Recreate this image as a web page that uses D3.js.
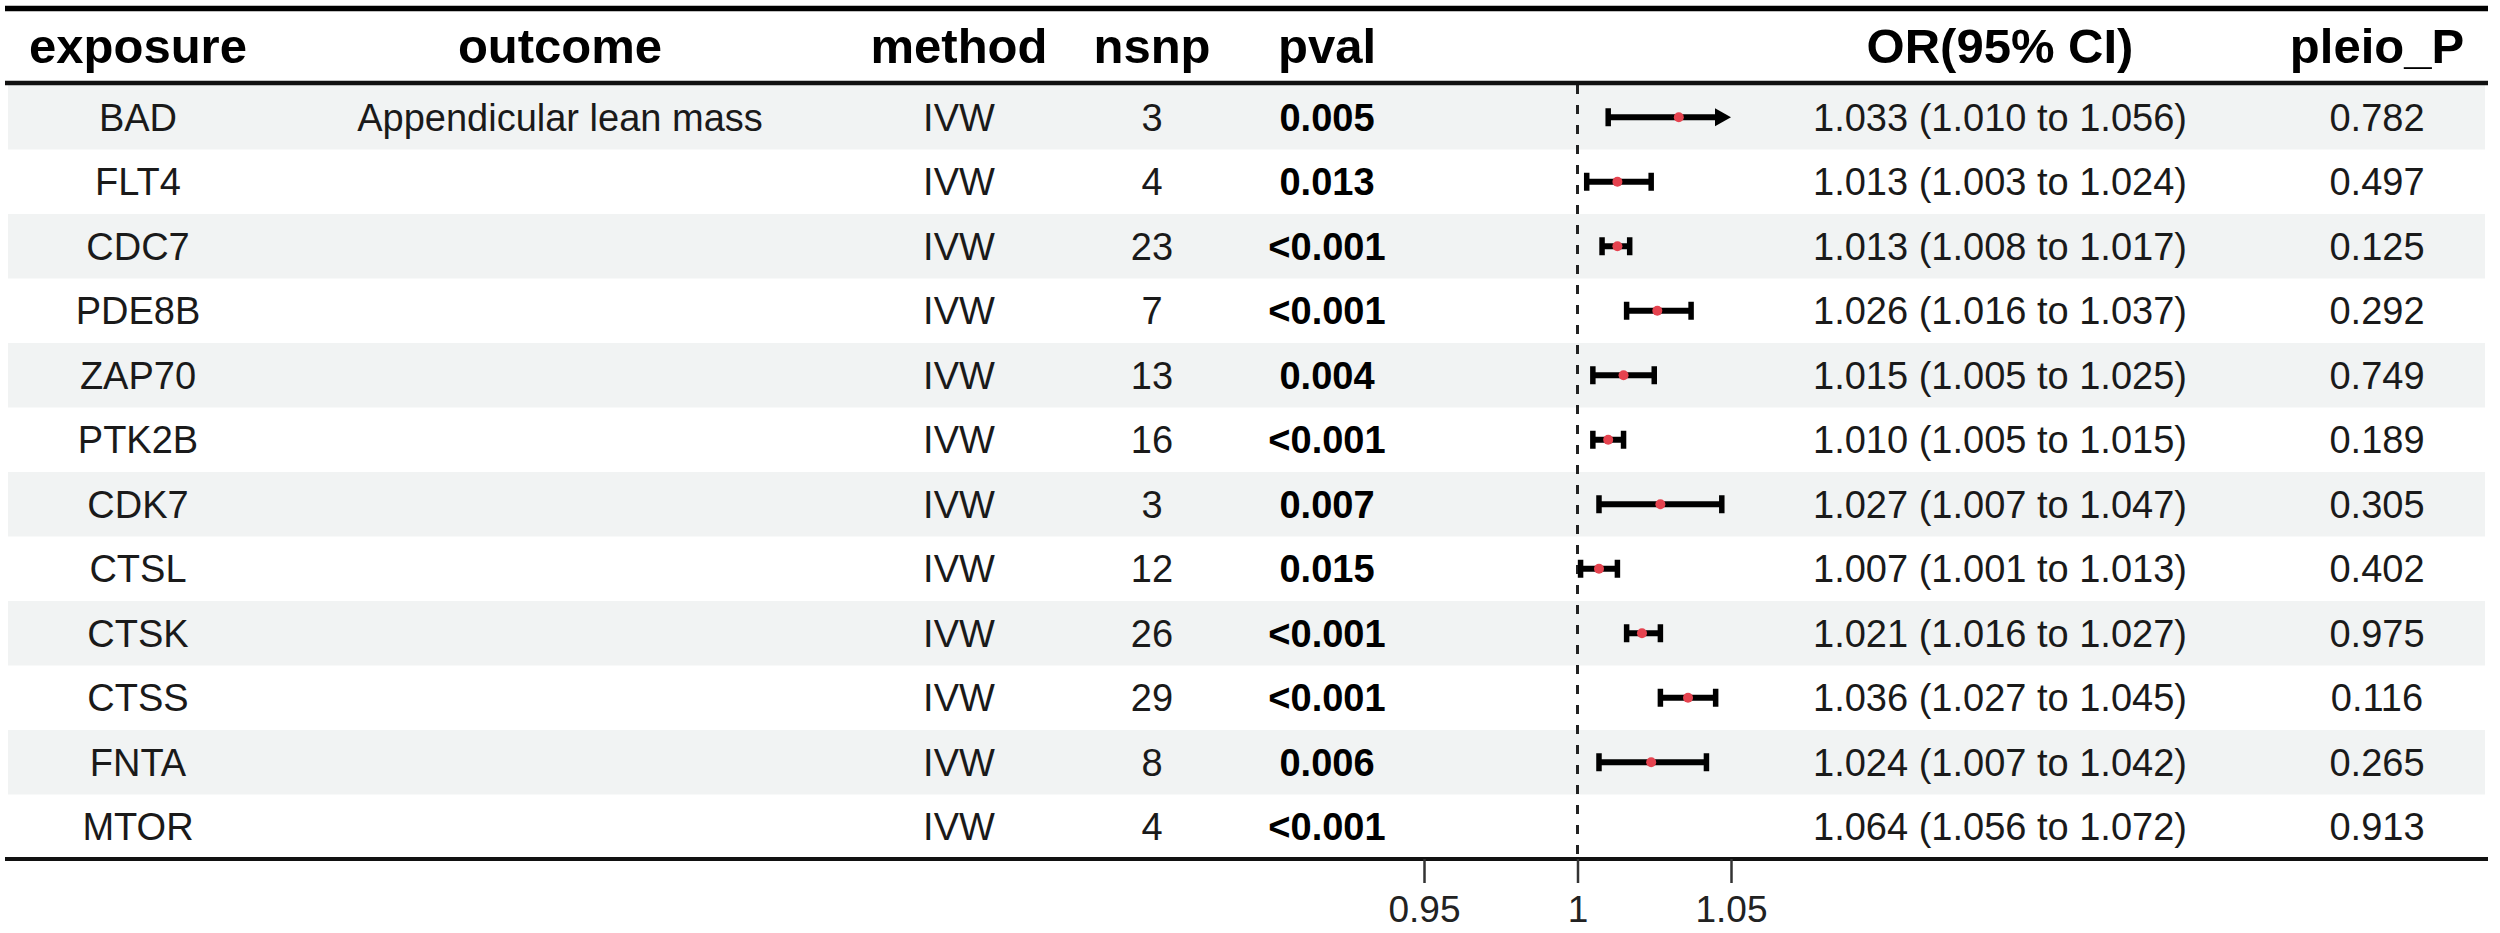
<!DOCTYPE html>
<html>
<head>
<meta charset="utf-8">
<script src="https://cdn.jsdelivr.net/npm/d3@7"></script>
<style>
  html, body { margin: 0; padding: 0; background: #ffffff; }
  svg { display: block; }
  text { font-family: "Liberation Sans", Arial, Helvetica, sans-serif; }
</style>
</head>
<body>
<svg id="chart" width="2500" height="933"></svg>
<script>
// ---- data ----
const headers = ["exposure", "outcome", "method", "nsnp", "pval", "", "OR(95% CI)", "pleio_P"];
const exposure = ["BAD","FLT4","CDC7","PDE8B","ZAP70","PTK2B","CDK7","CTSL","CTSK","CTSS","FNTA","MTOR"];
const outcome = ["Appendicular lean mass","","","","","","","","","","",""];
const method = ["IVW","IVW","IVW","IVW","IVW","IVW","IVW","IVW","IVW","IVW","IVW","IVW"];
const nsnp = [3,4,23,7,13,16,3,12,26,29,8,4];
const pval = ["0.005","0.013","<0.001","<0.001","0.004","<0.001","0.007","0.015","<0.001","<0.001","0.006","<0.001"];
const orEst = [1.033,1.013,1.013,1.026,1.015,1.010,1.027,1.007,1.021,1.036,1.024,1.064];
const orLow = [1.010,1.003,1.008,1.016,1.005,1.005,1.007,1.001,1.016,1.027,1.007,1.056];
const orHigh = [1.056,1.024,1.017,1.037,1.025,1.015,1.047,1.013,1.027,1.045,1.042,1.072];
const pleioP = ["0.782","0.497","0.125","0.292","0.749","0.189","0.305","0.402","0.975","0.116","0.265","0.913"];
const xTicks = [0.95, 1, 1.05];
const xDomain = [0.95, 1.05];
const refValue = 1;

// ---- layout ----
const svg = d3.select("#chart");
const tableLeft = 5, tableRight = 2488;
const topLineY = 8.5, headerLineY = 83, bodyTop = 85, bodyBottom = 859;
const colX = { exposure: 138, outcome: 560, method: 959, nsnp: 1152, pval: 1327, or: 2000, pleio: 2377 };
const headerX = [colX.exposure, colX.outcome, colX.method, colX.nsnp, colX.pval, null, colX.or, colX.pleio];

const n = exposure.length;
const y = d3.scaleBand().domain(d3.range(n)).range([bodyTop, bodyBottom]);
const x = d3.scaleLinear().domain(xDomain).range([1424, 1731]);
const fmt3 = d3.format(".3f");

// row bands
svg.append("g").selectAll("rect")
  .data(d3.range(n).filter(i => i % 2 === 0))
  .join("rect")
  .attr("x", 8).attr("width", 2477)
  .attr("y", i => y(i)).attr("height", y.bandwidth())
  .attr("fill", "#f1f3f3");

// header text
svg.append("g").selectAll("text")
  .data(headers.map((h, i) => ({ h, x: headerX[i] })).filter(d => d.h))
  .join("text")
  .attr("x", d => d.x).attr("y", 46).attr("dy", "0.35em")
  .attr("text-anchor", "middle")
  .attr("font-size", 49).attr("font-weight", "bold").attr("fill", "#000")
  .text(d => d.h);

// body text columns
function textCol(values, cx, bold) {
  svg.append("g").selectAll("text")
    .data(values)
    .join("text")
    .attr("x", cx)
    .attr("y", (d, i) => y(i) + y.bandwidth() / 2)
    .attr("dy", "0.35em")
    .attr("text-anchor", "middle")
    .attr("font-size", 38)
    .attr("font-weight", bold ? "bold" : "normal")
    .attr("fill", bold ? "#000" : "#1a1a1a")
    .text(d => d);
}
textCol(exposure, colX.exposure);
textCol(outcome, colX.outcome);
textCol(method, colX.method);
textCol(nsnp, colX.nsnp);
textCol(pval, colX.pval, true);
textCol(orEst.map((v, i) => `${fmt3(v)} (${fmt3(orLow[i])} to ${fmt3(orHigh[i])})`), colX.or);
textCol(pleioP, colX.pleio);

// reference dashed line
svg.append("line")
  .attr("x1", x(refValue)).attr("x2", x(refValue))
  .attr("y1", bodyTop).attr("y2", bodyBottom)
  .attr("stroke", "#222").attr("stroke-width", 3)
  .attr("stroke-dasharray", "9,11");

// forest marks
const forest = svg.append("g");
const capH = 9, sw = 6;
d3.range(n).forEach(i => {
  const cy = y(i) + y.bandwidth() / 2;
  const lo = orLow[i], hi = orHigh[i], est = orEst[i];
  if (lo > xDomain[1] || hi < xDomain[0]) return;
  const loC = Math.max(lo, xDomain[0]);
  const hiC = Math.min(hi, xDomain[1]);
  const arrowR = hi > xDomain[1];
  const arrowL = lo < xDomain[0];
  const x1 = x(loC), x2 = x(hiC);
  const headLen = 16, headH = 9;
  forest.append("line")
    .attr("x1", arrowL ? x1 + headLen - 2 : x1).attr("x2", arrowR ? x2 - headLen + 2 : x2)
    .attr("y1", cy).attr("y2", cy)
    .attr("stroke", "#000").attr("stroke-width", sw);
  if (!arrowL) {
    forest.append("line").attr("x1", x1).attr("x2", x1).attr("y1", cy - capH).attr("y2", cy + capH)
      .attr("stroke", "#000").attr("stroke-width", sw - 0.5);
  } else {
    forest.append("path").attr("d", `M${x1},${cy} L${x1 + headLen},${cy - headH} L${x1 + headLen},${cy + headH} Z`).attr("fill", "#000");
  }
  if (!arrowR) {
    forest.append("line").attr("x1", x2).attr("x2", x2).attr("y1", cy - capH).attr("y2", cy + capH)
      .attr("stroke", "#000").attr("stroke-width", sw - 0.5);
  } else {
    forest.append("path").attr("d", `M${x2},${cy} L${x2 - headLen},${cy - headH} L${x2 - headLen},${cy + headH} Z`).attr("fill", "#000");
  }
  if (est >= xDomain[0] && est <= xDomain[1]) {
    forest.append("circle").attr("cx", x(est)).attr("cy", cy).attr("r", 5).attr("fill", "#e5434f");
  }
});

// horizontal rules
svg.append("line").attr("x1", tableLeft).attr("x2", tableRight).attr("y1", topLineY).attr("y2", topLineY)
  .attr("stroke", "#000").attr("stroke-width", 5.5);
svg.append("line").attr("x1", tableLeft).attr("x2", tableRight).attr("y1", headerLineY).attr("y2", headerLineY)
  .attr("stroke", "#111").attr("stroke-width", 4.5);
svg.append("line").attr("x1", tableLeft).attr("x2", tableRight).attr("y1", bodyBottom).attr("y2", bodyBottom)
  .attr("stroke", "#111").attr("stroke-width", 4);

// x axis
const axisG = svg.append("g")
  .attr("transform", `translate(0,${bodyBottom})`)
  .call(d3.axisBottom(x).tickValues(xTicks).tickSize(24).tickFormat(d => String(d)));
axisG.select(".domain").remove();
axisG.selectAll(".tick line").attr("stroke", "#333").attr("stroke-width", 2.5);
axisG.selectAll(".tick text")
  .attr("y", 50).attr("dy", "0.35em")
  .attr("font-size", 37).attr("fill", "#222")
  .attr("font-family", "'Liberation Sans', Arial, sans-serif");
</script>
</body>
</html>
